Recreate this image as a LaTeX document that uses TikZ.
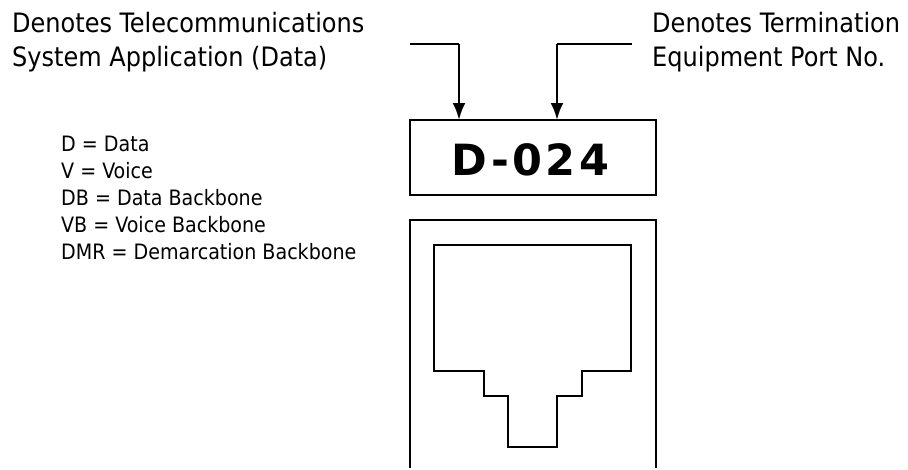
\documentclass[tikz,border=0pt]{standalone}
\usepackage{fontspec}
\setmainfont{DejaVu Sans}
\usetikzlibrary{arrows.meta}
\newfontfamily\condfont{DejaVu Sans Condensed}
\begin{document}
\begin{tikzpicture}[x=1pt, y=-1pt,
  note/.style={font=\condfont\fontsize{26.7}{34}\selectfont, anchor=base west, align=left, inner sep=0pt},
  key/.style={font=\condfont\fontsize{21.2}{26.8}\selectfont, anchor=base west, align=left, inner sep=0pt},
  tagbox/.style={draw, line width=1.4pt, minimum width=246pt, minimum height=75pt, inner sep=0pt, outer sep=0pt},
  tagtext/.style={font=\bfseries\fontsize{43}{48}\selectfont, anchor=base, inner sep=0pt},
  wire/.style={line width=1.6pt},
  feed/.style={line width=2.6pt, -{Latex[length=17pt, width=13pt]}},
  outline/.style={line width=1.4pt}
]
\useasboundingbox (0,0) rectangle (908,469);

%% Notes along the top
\node[note] (appnote) at (12,66) {Denotes Telecommunications\\System Application (Data)};
\node[note] (portnote) at (652,66) {Denotes Termination\\Equipment Port No.};

%% Key of letters
\node[key] (legend) at (61,259) {D = Data\\V = Voice\\DB = Data Backbone\\VB = Voice Backbone\\DMR = Demarcation Backbone};

%% Label box and its two feeds
\node[tagbox] (tag) at (533,157.5) {};
\node[tagtext] (tagname) at (530.5,175) {D\hspace{3.5pt}-\hspace{3.5pt}0\hspace{3.5pt}2\hspace{3.5pt}4};
\coordinate (appstart) at (410,44);
\coordinate (appbend) at (459,44);
\coordinate (portstart) at (632,44);
\coordinate (portbend) at (557,44);
\draw[wire] (appstart) -- (appbend);
\draw[wire] (portstart) -- (portbend);
\draw[feed] (appbend) -- (appbend |- tag.north);
\draw[feed] (portbend) -- (portbend |- tag.north);

%% Wall plate, open at the bottom
\draw[outline] (410,468) -- (410,220) -- (656,220) -- (656,468);

%% Jack outline
\draw[outline] (434,245) -- (631,245) -- (631,371) -- (582,371) -- (582,396) -- (557,396)
  -- (557,447) -- (508,447) -- (508,396) -- (484,396) -- (484,371) -- (434,371) -- cycle;
\end{tikzpicture}
\end{document}
